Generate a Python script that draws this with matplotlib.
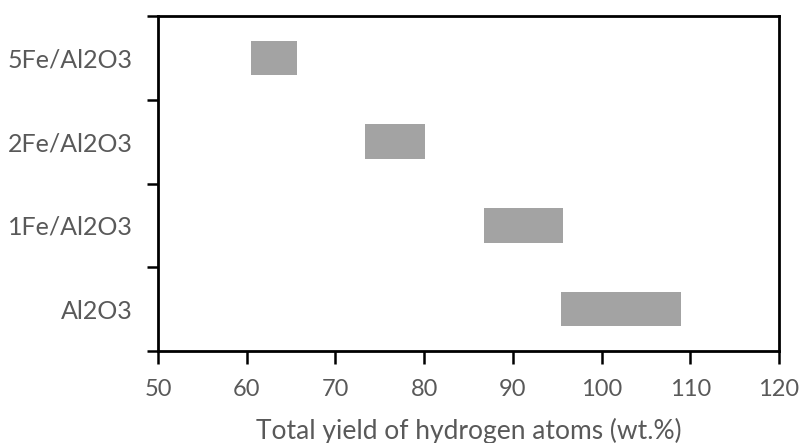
import matplotlib
matplotlib.use("Agg")
import matplotlib.pyplot as plt
from matplotlib.ticker import FixedLocator

categories = ["Al2O3", "1Fe/Al2O3", "2Fe/Al2O3", "5Fe/Al2O3"]
yield_low = [95.4, 86.8, 73.3, 60.5]
yield_high = [108.9, 95.7, 80.1, 65.7]
x_ticks = [50, 60, 70, 80, 90, 100, 110, 120]

plt.rcParams['font.family'] = ['Lato', 'DejaVu Sans']
text_color = '#595959'

fig = plt.figure(figsize=(8.03, 4.43), dpi=100)
ax = fig.add_axes([158/803, 1-351/443, (779-158)/803, (351-16)/443])

ypos = list(range(len(categories)))
widths = [h - l for l, h in zip(yield_low, yield_high)]
ax.barh(ypos, widths, left=yield_low, height=0.41, color='#a3a3a3', edgecolor='none')

ax.set_xlim(50, 120)
ax.set_ylim(-0.5, len(categories) - 0.5)
ax.set_xticks(x_ticks)
ax.set_yticks(ypos)
ax.set_yticklabels(categories)
ax.yaxis.set_minor_locator(FixedLocator([i - 0.5 for i in range(len(categories) + 1)]))
ax.tick_params(axis='y', which='major', length=0, pad=18, labelsize=18, labelcolor=text_color)
ax.tick_params(axis='y', which='minor', length=8, width=1.8, color='black', direction='out')
ax.tick_params(axis='x', which='major', length=9, width=1.8, color='black', direction='out',
               pad=11, labelsize=17, labelcolor=text_color)

for s in ax.spines.values():
    s.set_linewidth(2)
    s.set_color('black')

ax.set_xlabel("Total yield of hydrogen atoms (wt.%)", fontsize=19, color=text_color, labelpad=13)

fig.savefig("out.png", dpi=100)
